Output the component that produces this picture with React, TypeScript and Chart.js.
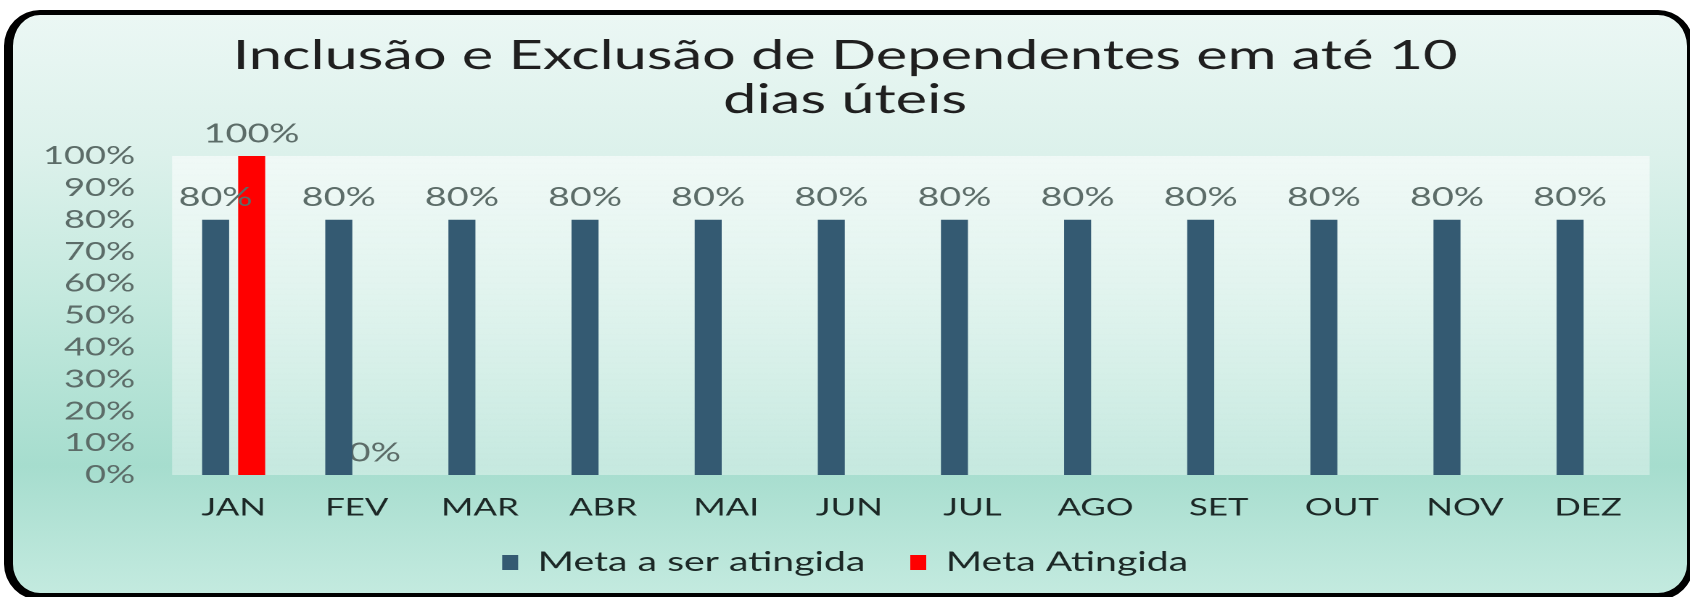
import React, { useEffect, useRef } from "react";
import { Chart, registerables } from "chart.js";

Chart.register(...registerables);

// ---- data ----
const months = ["JAN", "FEV", "MAR", "ABR", "MAI", "JUN", "JUL", "AGO", "SET", "OUT", "NOV", "DEZ"];
const metaASerAtingida = [80, 80, 80, 80, 80, 80, 80, 80, 80, 80, 80, 80];
const metaAtingida: (number | null)[] = [100, 0, null, null, null, null, null, null, null, null, null, null];
const seriesNames = ["Meta a ser atingida", "Meta Atingida"];
const titleLines = ["Inclusão e Exclusão de Dependentes em até 10", "dias úteis"];
const yMin = 0;
const yMax = 100;
const yStep = 10;

// ---- layout / style ----
const FULL_W = 1690;
const FULL_H = 597;
const SX = 1.45; // horizontal stretch of the original picture
const LW = FULL_W / SX;
const FONT = "Lato, 'Open Sans', sans-serif";
const NAVY = "#345a72";
const RED = "#ff0000";
const TICK_GRAY = "#5c6c68";
const DARK = "#1c2826";

const plotArea = { left: 172 / SX, right: 1649 / SX };
const padLeft = 28;
const padRight = LW - plotArea.right;

function drawLabels(chart: any, dsIndex: number) {
  const meta = chart.getDatasetMeta(dsIndex);
  const ds = chart.data.datasets[dsIndex];
  const ctx = chart.ctx;
  ctx.save();
  ctx.font = `26px ${FONT}`;
  ctx.fillStyle = TICK_GRAY;
  ctx.textAlign = "center";
  ctx.textBaseline = "middle";
  meta.data.forEach((bar: any, i: number) => {
    const v = ds.data[i];
    if (v === null || v === undefined) return;
    ctx.fillText(`${v}%`, bar.x, bar.y - 22);
  });
  ctx.restore();
}

const labelPlugin = {
  id: "valueLabels",
  beforeDatasetsDraw(chart: any) {
    drawLabels(chart, 1);
  },
  afterDatasetsDraw(chart: any) {
    drawLabels(chart, 0);
  },
};

const plotBgPlugin = {
  id: "plotBg",
  beforeDraw(chart: any) {
    const { ctx, chartArea } = chart;
    if (!chartArea) return;
    const g = ctx.createLinearGradient(0, chartArea.top, 0, chartArea.bottom);
    g.addColorStop(0, "rgba(255,255,255,0.58)");
    g.addColorStop(1, "rgba(255,255,255,0.36)");
    ctx.save();
    ctx.fillStyle = g;
    ctx.fillRect(chartArea.left, chartArea.top, chartArea.right - chartArea.left, chartArea.bottom - chartArea.top);
    ctx.restore();
  },
};

export default function App() {
  const canvasRef = useRef<HTMLCanvasElement | null>(null);

  useEffect(() => {
    if (!canvasRef.current) return;
    const chart = new Chart(canvasRef.current, {
      type: "bar",
      data: {
        labels: months,
        datasets: [
          {
            label: seriesNames[0],
            data: metaASerAtingida,
            backgroundColor: NAVY,
            borderWidth: 0,
            categoryPercentage: 0.585,
            barPercentage: 0.75,
          },
          {
            label: seriesNames[1],
            data: metaAtingida,
            backgroundColor: RED,
            borderWidth: 0,
            categoryPercentage: 0.585,
            barPercentage: 0.75,
          },
        ],
      },
      options: {
        animation: false,
        responsive: true,
        maintainAspectRatio: false,
        devicePixelRatio: 2,
        layout: { padding: { top: 0, bottom: 11, left: padLeft, right: padRight } },
        plugins: {
          title: {
            display: true,
            text: titleLines,
            color: "#1f1f1f",
            font: { family: FONT, size: 41, weight: "normal", lineHeight: 44 / 41 },
            padding: { top: 34, bottom: 34 },
          },
          legend: {
            display: true,
            position: "bottom",
            labels: {
              color: DARK,
              font: { family: FONT, size: 27 },
              boxWidth: 11,
              boxHeight: 15,
              padding: 31,
            },
          },
          tooltip: { enabled: false },
        },
        scales: {
          x: {
            grid: { display: false, drawTicks: false },
            border: { display: false },
            ticks: { color: DARK, font: { family: FONT, size: 24 }, padding: 18.5 },
            afterFit: (scale: any) => {
              scale.height = 43;
            },
          },
          y: {
            min: yMin,
            max: yMax,
            grid: { display: false, drawTicks: false },
            border: { display: false },
            ticks: {
              stepSize: yStep,
              autoSkip: false,
              color: TICK_GRAY,
              font: { family: FONT, size: 25 },
              padding: 25.5,
              callback: (v: any) => `${v}%`,
            },
            afterFit: (scale: any) => {
              scale.width = plotArea.left - padLeft;
            },
          },
        },
      },
      plugins: [plotBgPlugin, labelPlugin],
    });
    return () => chart.destroy();
  }, []);

  return (
    <div
      style={{
        position: "fixed",
        left: 0,
        top: 0,
        width: FULL_W,
        height: FULL_H,
        overflow: "hidden",
        background: "#ffffff",
      }}
    >
      <div
        style={{
          position: "absolute",
          left: 4,
          top: 10,
          width: 1690,
          height: 590,
          boxSizing: "border-box",
          borderStyle: "solid",
          borderColor: "#000",
          borderWidth: "5px 7px 7px 9px",
          borderRadius: 36,
          background:
            "linear-gradient(180deg, #ebf7f4 0%, #dcf1eb 24%, #c4e9de 49%, #a6ddce 78%, #c3eadf 100%)",
        }}
      />
      <div
        style={{
          position: "absolute",
          left: 0,
          top: 0,
          width: LW,
          height: FULL_H,
          transform: `scaleX(${SX})`,
          transformOrigin: "0 0",
        }}
      >
        <canvas ref={canvasRef} />
      </div>
    </div>
  );
}
